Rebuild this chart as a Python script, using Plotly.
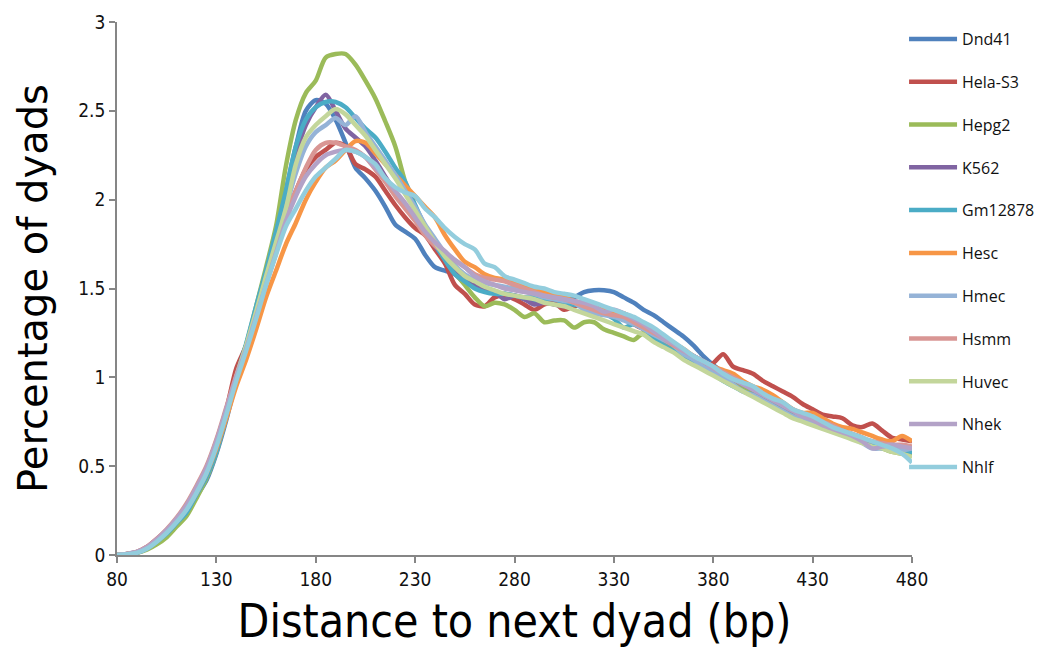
import plotly.graph_objects as go

distance = list(range(80, 485, 5))

series_names = ["Dnd41", "Hela-S3", "Hepg2", "K562", "Gm12878", "Hesc",
                "Hmec", "Hsmm", "Huvec", "Nhek", "Nhlf"]

colors = ["#4F81BD", "#C0504D", "#9BBB59", "#8064A2", "#4BACC6", "#F79646",
          "#95B3D7", "#D99694", "#C3D69B", "#B3A2C7", "#93CDDD"]

dnd41 = [0, 0.005, 0.012, 0.035, 0.07, 0.12, 0.17, 0.24, 0.33, 0.42, 0.57, 0.76, 0.98, 1.17, 1.37, 1.57, 1.78,
         2.05, 2.3, 2.5, 2.56, 2.54, 2.45, 2.32, 2.18, 2.12, 2.05, 1.96, 1.86, 1.82, 1.78, 1.69, 1.62, 1.6,
         1.58, 1.53, 1.52, 1.5, 1.48, 1.47, 1.46, 1.44, 1.42, 1.42, 1.45, 1.44, 1.45, 1.48, 1.49, 1.49,
         1.48, 1.45, 1.42, 1.38, 1.35, 1.31, 1.27, 1.23, 1.18, 1.12, 1.07, 1.03, 1.0, 0.97, 0.93, 0.9,
         0.87, 0.84, 0.81, 0.78, 0.75, 0.73, 0.72, 0.7, 0.68, 0.66, 0.63, 0.62, 0.61, 0.59, 0.58]

hela_s3 = [0, 0.006, 0.018, 0.045, 0.09, 0.14, 0.2, 0.28, 0.38, 0.49, 0.64, 0.82, 1.05, 1.18, 1.36, 1.55, 1.72,
           1.9, 2.05, 2.17, 2.24, 2.28, 2.32, 2.3, 2.2, 2.17, 2.13, 2.05, 1.97, 1.9, 1.84, 1.8, 1.72, 1.64,
           1.52, 1.47, 1.41, 1.4, 1.45, 1.46, 1.44, 1.41, 1.38, 1.41, 1.42, 1.38, 1.4, 1.41, 1.4, 1.37,
           1.35, 1.34, 1.3, 1.27, 1.24, 1.2, 1.17, 1.14, 1.1, 1.06, 1.08, 1.13, 1.06, 1.04, 1.02, 0.98,
           0.95, 0.92, 0.89, 0.85, 0.82, 0.79, 0.78, 0.77, 0.73, 0.72, 0.74, 0.7, 0.66, 0.65, 0.64]

hepg2 = [0, 0.004, 0.012, 0.03, 0.06, 0.1, 0.16, 0.22, 0.32, 0.43, 0.58, 0.78, 0.99, 1.18, 1.4, 1.62, 1.85,
         2.19, 2.45, 2.6, 2.67, 2.8, 2.82, 2.82, 2.76, 2.67, 2.57, 2.44, 2.3, 2.1, 1.94, 1.85, 1.76, 1.68,
         1.59, 1.52, 1.45, 1.4, 1.42, 1.41, 1.38, 1.34, 1.36, 1.31, 1.32, 1.32, 1.28, 1.31, 1.31, 1.27,
         1.25, 1.23, 1.21, 1.25, 1.21, 1.19, 1.16, 1.12, 1.09, 1.06, 1.03, 1.0, 0.97, 0.94, 0.91, 0.88,
         0.85, 0.82, 0.79, 0.76, 0.74, 0.72, 0.7, 0.68, 0.66, 0.64, 0.62, 0.6, 0.58, 0.57, 0.56]

k562 = [0, 0.005, 0.014, 0.038, 0.08, 0.13, 0.19, 0.26, 0.35, 0.46, 0.6, 0.79, 1.0, 1.18, 1.38, 1.58, 1.78,
        2.0, 2.25, 2.42, 2.52, 2.59, 2.5, 2.4, 2.35, 2.3, 2.22, 2.13, 2.04, 1.96, 1.9, 1.82, 1.74, 1.67,
        1.6, 1.56, 1.53, 1.5, 1.48, 1.44, 1.46, 1.44, 1.41, 1.42, 1.41, 1.4, 1.41, 1.4, 1.39, 1.37,
        1.35, 1.33, 1.31, 1.28, 1.24, 1.21, 1.18, 1.15, 1.12, 1.09, 1.06, 1.02, 0.99, 0.96, 0.93, 0.9,
        0.87, 0.84, 0.81, 0.78, 0.76, 0.73, 0.71, 0.69, 0.67, 0.65, 0.63, 0.62, 0.6, 0.59, 0.58]

gm12878 = [0, 0.005, 0.013, 0.036, 0.075, 0.12, 0.18, 0.24, 0.34, 0.44, 0.58, 0.78, 1.0, 1.19, 1.4, 1.6, 1.82,
           2.05, 2.3, 2.45, 2.52, 2.55, 2.55, 2.52, 2.46, 2.4, 2.35, 2.27, 2.18, 2.1, 1.97, 1.85, 1.75, 1.66,
           1.58, 1.54, 1.5, 1.48, 1.47, 1.47, 1.46, 1.45, 1.45, 1.44, 1.44, 1.42, 1.41, 1.4, 1.38, 1.36,
           1.33, 1.28, 1.3, 1.28, 1.22, 1.18, 1.15, 1.12, 1.08, 1.05, 1.02, 0.98, 0.95, 0.92, 0.9, 0.87,
           0.84, 0.81, 0.78, 0.76, 0.74, 0.72, 0.7, 0.68, 0.66, 0.64, 0.62, 0.6, 0.59, 0.58, 0.58]

hesc = [0, 0.005, 0.015, 0.04, 0.08, 0.13, 0.19, 0.26, 0.35, 0.46, 0.6, 0.77, 0.95, 1.1, 1.27, 1.45, 1.6,
        1.75, 1.87, 2.0, 2.1, 2.18, 2.22, 2.28, 2.33, 2.32, 2.26, 2.2, 2.14, 2.08, 2.02, 1.96, 1.9, 1.8,
        1.72, 1.65, 1.62, 1.58, 1.56, 1.55, 1.53, 1.52, 1.5, 1.48, 1.46, 1.45, 1.43, 1.41, 1.39, 1.38,
        1.37, 1.36, 1.33, 1.3, 1.26, 1.22, 1.19, 1.16, 1.12, 1.09, 1.06, 1.04, 1.02, 0.98, 0.95, 0.93,
        0.9, 0.86, 0.82, 0.8, 0.8, 0.77, 0.74, 0.72, 0.71, 0.69, 0.67, 0.65, 0.64, 0.67, 0.64]

hmec = [0, 0.006, 0.017, 0.043, 0.085, 0.14, 0.2, 0.27, 0.37, 0.48, 0.63, 0.81, 1.0, 1.17, 1.35, 1.54, 1.72,
        1.95, 2.15, 2.3, 2.38, 2.42, 2.46, 2.42, 2.47, 2.38, 2.3, 2.22, 2.14, 2.05, 1.96, 1.86, 1.78, 1.7,
        1.63, 1.58, 1.55, 1.53, 1.52, 1.51, 1.5, 1.49, 1.47, 1.45, 1.44, 1.43, 1.42, 1.38, 1.36, 1.35,
        1.34, 1.32, 1.3, 1.27, 1.24, 1.21, 1.18, 1.13, 1.1, 1.06, 1.03, 1.0, 0.96, 0.92, 0.9, 0.87,
        0.84, 0.81, 0.78, 0.76, 0.74, 0.72, 0.7, 0.68, 0.66, 0.63, 0.6, 0.6, 0.6, 0.59, 0.6]

hsmm = [0, 0.006, 0.018, 0.045, 0.09, 0.145, 0.21, 0.29, 0.39, 0.5, 0.65, 0.83, 1.01, 1.17, 1.35, 1.53, 1.7,
        1.92, 2.05, 2.18, 2.28, 2.32, 2.32, 2.3, 2.28, 2.24, 2.17, 2.1, 2.02, 1.95, 1.88, 1.8, 1.74, 1.7,
        1.66, 1.62, 1.58, 1.56, 1.55, 1.54, 1.52, 1.5, 1.48, 1.46, 1.45, 1.44, 1.42, 1.4, 1.38, 1.36,
        1.35, 1.34, 1.31, 1.28, 1.25, 1.22, 1.18, 1.15, 1.12, 1.09, 1.06, 1.03, 1.0, 0.97, 0.94, 0.91,
        0.88, 0.85, 0.82, 0.79, 0.77, 0.75, 0.73, 0.7, 0.68, 0.66, 0.64, 0.63, 0.62, 0.62, 0.61]

huvec = [0, 0.005, 0.015, 0.04, 0.08, 0.13, 0.19, 0.26, 0.36, 0.47, 0.62, 0.8, 1.0, 1.18, 1.37, 1.57, 1.76,
         1.95, 2.2, 2.35, 2.42, 2.47, 2.51, 2.48, 2.42, 2.36, 2.28, 2.2, 2.12, 2.03, 1.94, 1.85, 1.76, 1.68,
         1.62, 1.57, 1.54, 1.51, 1.49, 1.47, 1.46, 1.45, 1.44, 1.42, 1.41, 1.4, 1.38, 1.36, 1.34, 1.32,
         1.3, 1.28, 1.26, 1.24, 1.2, 1.17, 1.14, 1.1, 1.07, 1.04, 1.01, 0.98, 0.95, 0.92, 0.89, 0.86,
         0.83, 0.8, 0.77, 0.75, 0.73, 0.71, 0.69, 0.67, 0.65, 0.63, 0.61, 0.6, 0.58, 0.57, 0.55]

nhek = [0, 0.006, 0.017, 0.044, 0.088, 0.14, 0.205, 0.28, 0.38, 0.49, 0.64, 0.82, 1.0, 1.16, 1.34, 1.52, 1.7,
        1.88, 2.02, 2.13, 2.2, 2.25, 2.27, 2.28, 2.27, 2.24, 2.18, 2.12, 2.05, 1.98, 1.9, 1.82, 1.76, 1.71,
        1.66, 1.62, 1.57, 1.54, 1.52, 1.5, 1.49, 1.48, 1.47, 1.46, 1.45, 1.44, 1.43, 1.42, 1.4, 1.37,
        1.38, 1.36, 1.33, 1.3, 1.26, 1.22, 1.19, 1.15, 1.12, 1.09, 1.05, 1.02, 0.99, 0.96, 0.93, 0.9,
        0.87, 0.84, 0.81, 0.78, 0.76, 0.73, 0.71, 0.69, 0.67, 0.64, 0.6, 0.61, 0.62, 0.61, 0.6]

nhlf = [0, 0.004, 0.012, 0.035, 0.075, 0.125, 0.185, 0.255, 0.35, 0.46, 0.61, 0.79, 0.98, 1.15, 1.33, 1.52, 1.69,
        1.85, 1.95, 2.05, 2.13, 2.18, 2.23, 2.28, 2.27, 2.24, 2.2, 2.12, 2.07, 2.04, 2.02, 1.95, 1.9, 1.84,
        1.79, 1.75, 1.72, 1.64, 1.62, 1.57, 1.55, 1.53, 1.51, 1.5, 1.48, 1.47, 1.46, 1.44, 1.42, 1.4,
        1.38, 1.36, 1.34, 1.31, 1.28, 1.24, 1.2, 1.16, 1.12, 1.09, 1.06, 1.02, 0.99, 0.97, 0.95, 0.91,
        0.88, 0.86, 0.82, 0.8, 0.78, 0.75, 0.72, 0.7, 0.68, 0.66, 0.64, 0.62, 0.6, 0.57, 0.52]

all_series = [dnd41, hela_s3, hepg2, k562, gm12878, hesc, hmec, hsmm, huvec, nhek, nhlf]

x_ticks = [80, 130, 180, 230, 280, 330, 380, 430, 480]
y_ticks = [0, 0.5, 1, 1.5, 2, 2.5, 3]
y_tick_labels = ["0", "0.5", "1", "1.5", "2", "2.5", "3"]

fig = go.Figure()
for name, vals, col in zip(series_names, all_series, colors):
    fig.add_trace(go.Scatter(
        x=distance, y=vals, name=name, mode="lines", legendgroup=name,
        line=dict(color=col, width=4.5, shape="spline", smoothing=0.8),
    ))

axis_grey = "#868686"
tick_font = dict(family="Liberation Sans Narrow, DejaVu Sans Condensed, sans-serif", size=19, color="#111111")

fig.update_layout(
    width=1062, height=650,
    margin=dict(l=117, r=150, t=22, b=95),
    paper_bgcolor="white", plot_bgcolor="white",
    showlegend=True,
    legend=dict(
        x=0.99, y=1.0, xanchor="left", yanchor="top",
        font=dict(family="Open Sans, DejaVu Sans, sans-serif", size=16, color="#111111"),
        tracegroupgap=19, itemwidth=48, bgcolor="rgba(0,0,0,0)",
    ),
    xaxis=dict(
        range=[80, 480], tickmode="array", tickvals=x_ticks,
        ticktext=[str(v) for v in x_ticks],
        showline=True, linecolor=axis_grey, linewidth=1.5,
        ticks="outside", ticklen=6, tickcolor=axis_grey, tickwidth=1.5,
        showgrid=False, zeroline=False, tickfont=tick_font,
        title=dict(text="Distance to next dyad (bp)", standoff=16,
                   font=dict(family="Liberation Sans Narrow, DejaVu Sans Condensed, sans-serif", size=46, color="#000000")),
    ),
    yaxis=dict(
        range=[0, 3], tickmode="array", tickvals=y_ticks, ticktext=y_tick_labels,
        showline=True, linecolor=axis_grey, linewidth=1.5,
        ticks="outside", ticklen=6, tickcolor=axis_grey, tickwidth=1.5,
        showgrid=False, zeroline=False, tickfont=tick_font,
        title=dict(text="Percentage of dyads", standoff=18,
                   font=dict(family="DejaVu Sans, Verdana, sans-serif", size=40, color="#000000")),
    ),
)

fig.write_html("out.html")
